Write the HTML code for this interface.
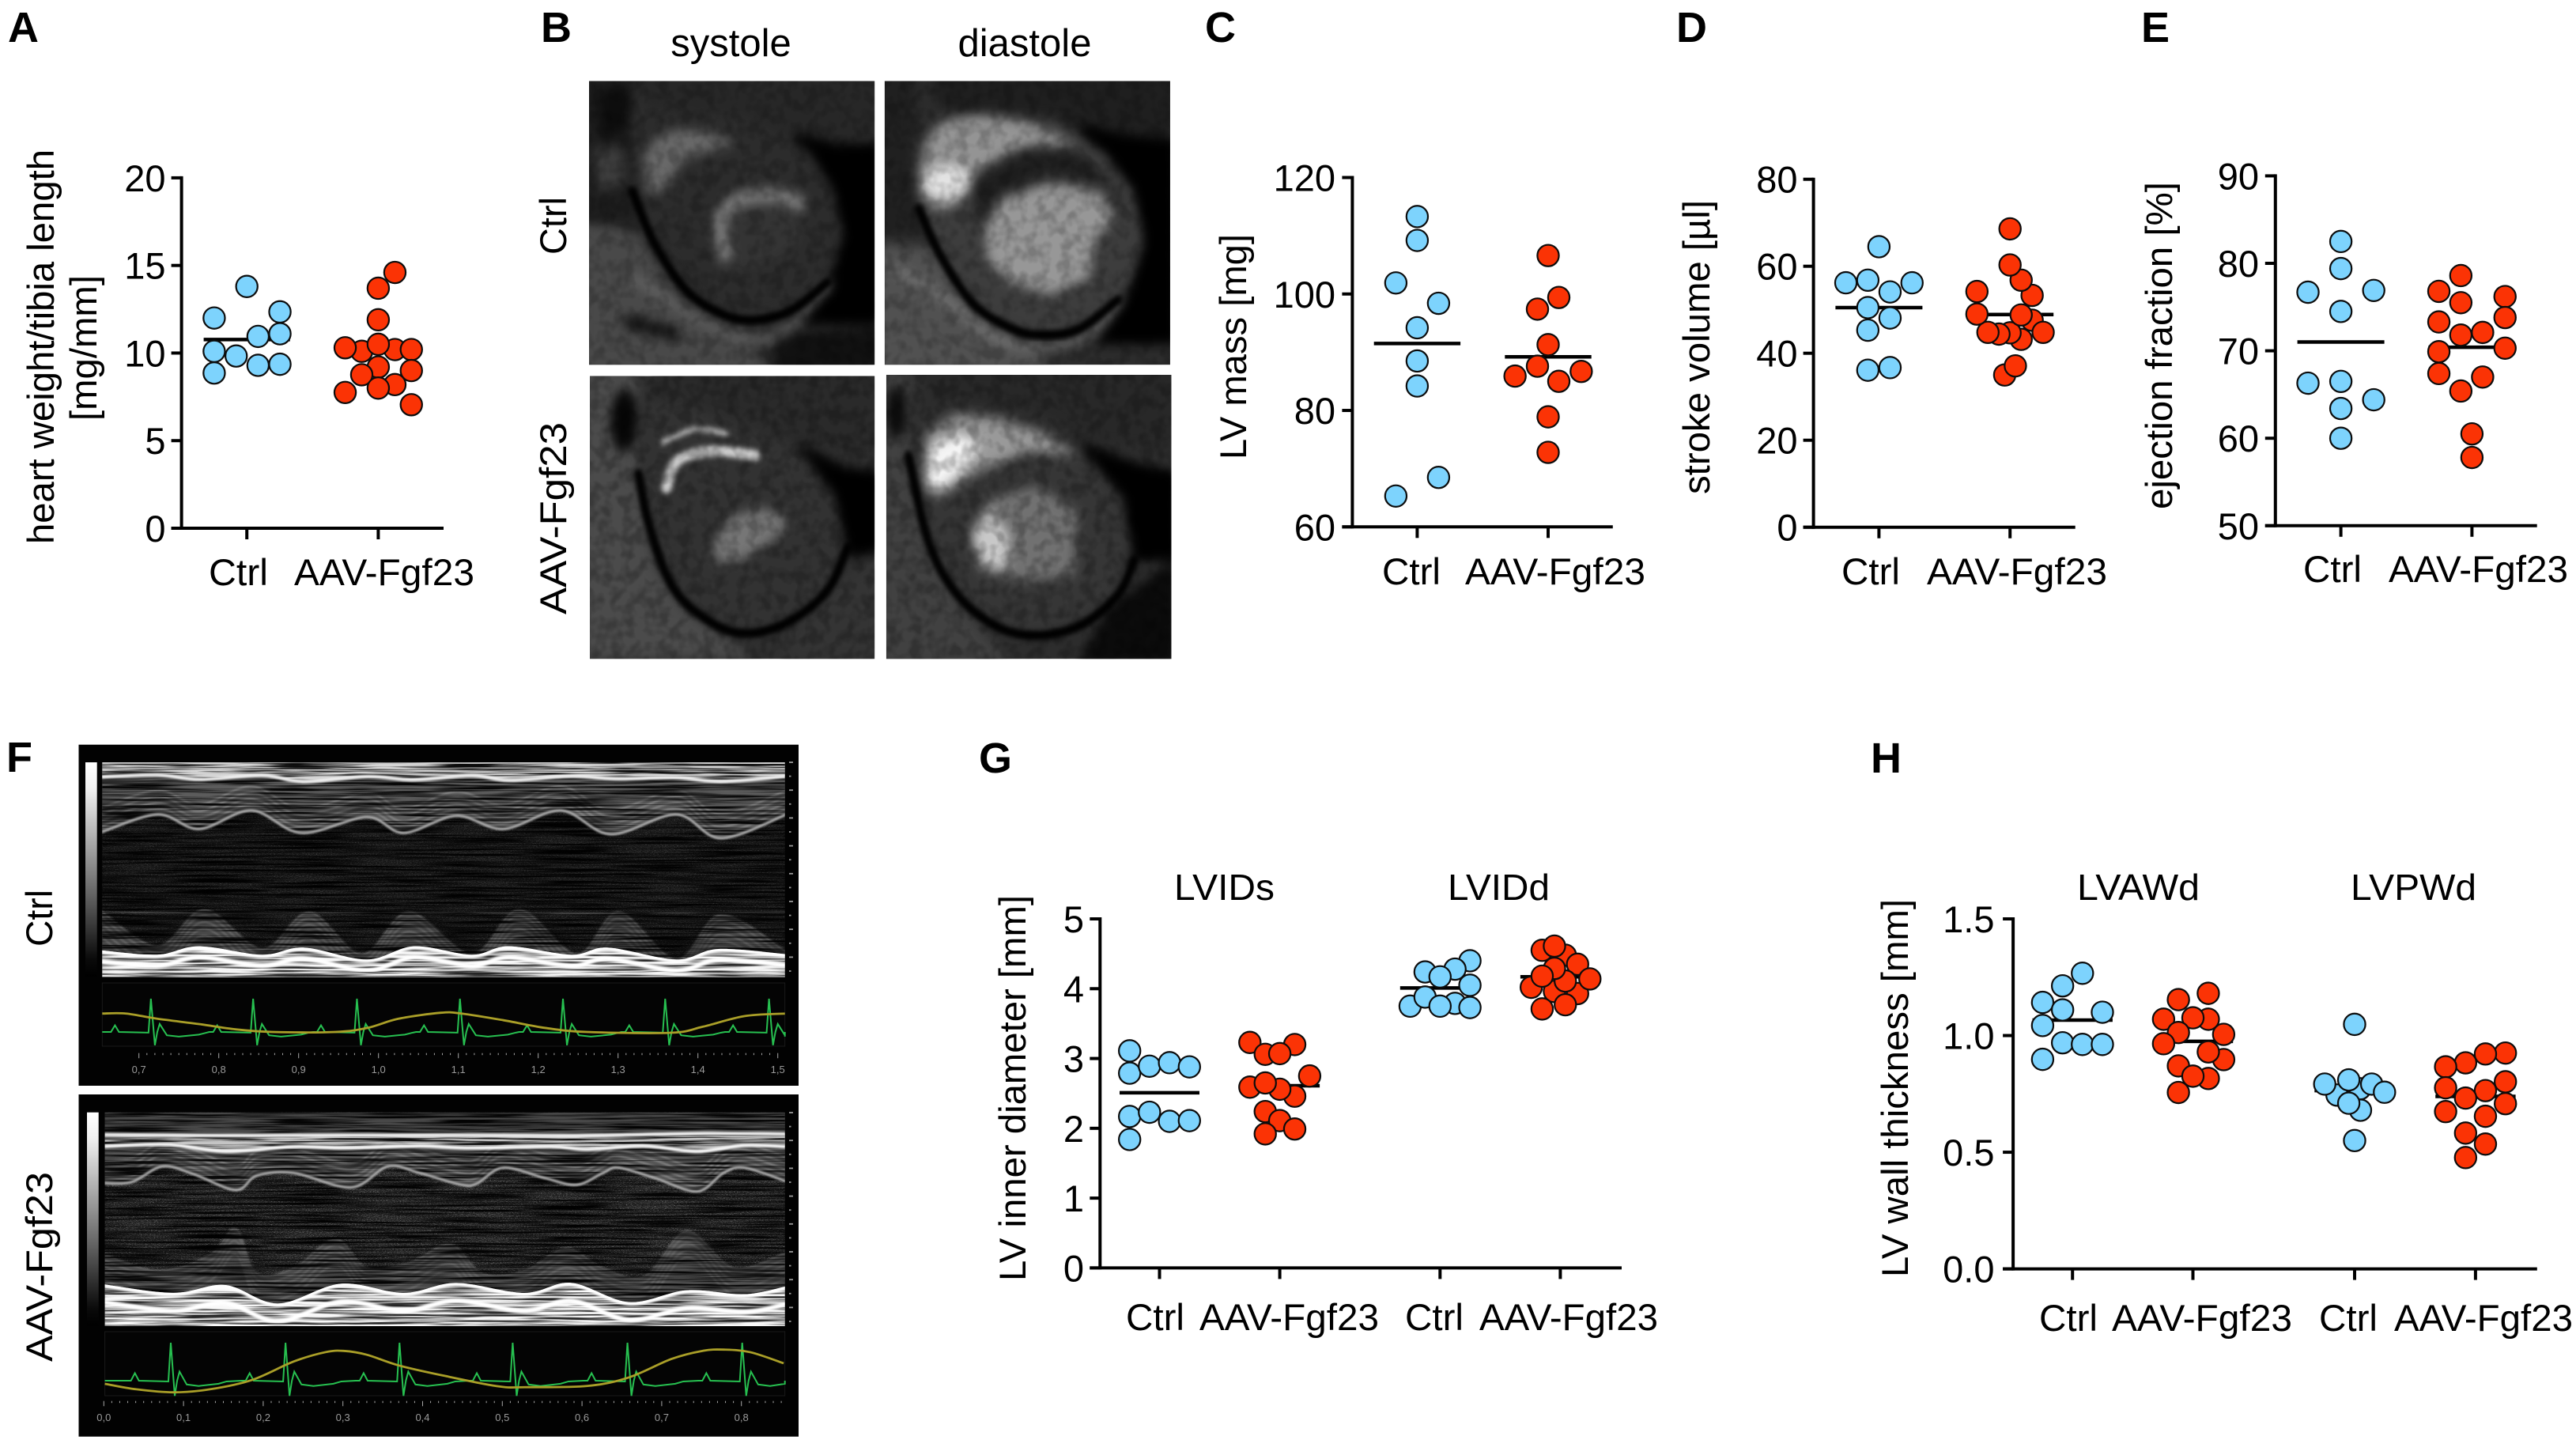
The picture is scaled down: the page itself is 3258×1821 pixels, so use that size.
<!DOCTYPE html>
<html lang="en">
<head>
<meta charset="utf-8">
<title>Cardiac phenotype figure: Ctrl vs AAV-Fgf23</title>
<style>
html,body{margin:0;padding:0;background:#fff;width:3258px;height:1821px;overflow:hidden}
svg{display:block}
text{font-family:"Liberation Sans",Arial,sans-serif;fill:#000}
.lbl{font-size:47px}
.pl{font-size:54px;font-weight:bold}
</style>
</head>
<body>
<svg id="fig" xmlns="http://www.w3.org/2000/svg" width="3258" height="1821" viewBox="0 0 3258 1821">
<defs>
  <filter id="blurS" x="-5%" y="-5%" width="110%" height="110%" color-interpolation-filters="sRGB"><feGaussianBlur stdDeviation="13"/></filter>
  <filter id="blurT" x="-5%" y="-5%" width="110%" height="110%" color-interpolation-filters="sRGB"><feGaussianBlur stdDeviation="6"/></filter>
  <filter id="blurLine" x="-2%" y="-5%" width="104%" height="110%" color-interpolation-filters="sRGB"><feGaussianBlur stdDeviation="2 3"/></filter>
  <filter id="mriTone" x="-2%" y="-2%" width="104%" height="104%" color-interpolation-filters="sRGB">
    <feComponentTransfer>
      <feFuncR type="gamma" exponent="1.45"/><feFuncG type="gamma" exponent="1.45"/><feFuncB type="gamma" exponent="1.45"/>
    </feComponentTransfer>
  </filter>
  <filter id="streak" x="0" y="0" width="100%" height="100%" color-interpolation-filters="sRGB">
    <feTurbulence type="fractalNoise" baseFrequency="0.006 0.13" numOctaves="3" seed="4"/>
    <feColorMatrix values="0 0 0 0 0  0 0 0 0 0  0 0 0 0 0  3.2 0 0 0 -1.2"/>
  </filter>
  <filter id="speckle" x="0" y="0" width="100%" height="100%" color-interpolation-filters="sRGB">
    <feTurbulence type="fractalNoise" baseFrequency="0.35 0.7" numOctaves="2" seed="9"/>
    <feColorMatrix values="0 0 0 0 1  0 0 0 0 1  0 0 0 0 1  4 0 0 0 -1.9"/>
  </filter>
  <filter id="mriNoise" x="0" y="0" width="100%" height="100%" color-interpolation-filters="sRGB">
    <feTurbulence type="fractalNoise" baseFrequency="0.035 0.035" numOctaves="2" seed="12"/>
    <feColorMatrix values="0 0 0 0 0  0 0 0 0 0  0 0 0 0 0  3 0 0 0 -1.2"/>
  </filter>
  <linearGradient id="grayBar" x1="0" y1="0" x2="0" y2="1">
    <stop offset="0" stop-color="#fff"/><stop offset="0.12" stop-color="#f0f0f0"/><stop offset="0.55" stop-color="#777"/><stop offset="0.92" stop-color="#0a0a0a"/><stop offset="1" stop-color="#000"/>
  </linearGradient>
  <clipPath id="clipTL"><rect x="88" y="187" width="708" height="654"/></clipPath>
  <clipPath id="clipTR"><rect x="821" y="187" width="708" height="654"/></clipPath>
  <clipPath id="clipBL"><rect x="90" y="867" width="706" height="652"/></clipPath>
  <clipPath id="clipBR"><rect x="825" y="864" width="707" height="655"/></clipPath>
  <clipPath id="clipM1"><rect x="129.3" y="964" width="863.4" height="271.7"/></clipPath>
  <clipPath id="clipM2"><rect x="132.6" y="1406.7" width="860.1" height="270.3"/></clipPath>
</defs>
<rect width="3258" height="1821" fill="#fff"/>

<!-- panel letters -->
<text class="pl" x="10" y="53">A</text>
<text class="pl" x="684" y="53">B</text>
<text class="pl" x="1524" y="53">C</text>
<text class="pl" x="2120" y="53">D</text>
<text class="pl" x="2708" y="53">E</text>
<text class="pl" x="8" y="976">F</text>
<text class="pl" x="1238" y="977">G</text>
<text class="pl" x="2366" y="977">H</text>

<!-- Panel B : MRI -->
<g>
  <text class="lbl" x="924.5" y="71" text-anchor="middle" style="font-size:49px">systole</text>
  <text class="lbl" x="1296" y="71" text-anchor="middle" style="font-size:49px">diastole</text>
  <text class="lbl" transform="translate(716,322) rotate(-90)" textLength="73" lengthAdjust="spacingAndGlyphs">Ctrl</text>
  <text class="lbl" transform="translate(716,777) rotate(-90)" textLength="243" lengthAdjust="spacingAndGlyphs">AAV-Fgf23</text>

  <g id="mriImages" transform="translate(700,0) scale(0.5102,0.5485)" filter="url(#mriTone)">
    <!-- top-left -->
    <g clip-path="url(#clipTL)">
      <rect x="88" y="187" width="708" height="654" fill="#4e4e4e"/>
      <g filter="url(#blurS)">
        <polygon points="200,170 810,170 810,350 620,330 470,270 230,250" fill="#474747"/>
        <polygon points="70,170 200,170 190,330 210,520 70,520" fill="#3a3a3a"/>
        <polygon points="110,210 190,200 185,300 120,320" fill="#222"/>
        <polygon points="100,340 170,340 180,420 110,440" fill="#606060"/>
        <polygon points="70,510 200,530 320,700 480,790 540,860 70,860" fill="#6c6c6c"/>
        <polygon points="590,305 700,335 810,335 810,745 610,745 680,650 725,540 690,430" fill="#040404"/>
        <polygon points="560,770 810,755 810,860 540,860" fill="#282828"/>
        <polygon points="210,440 250,540 320,650 400,715 480,735 560,720 640,680 700,620 720,540 700,440 640,350 580,310 450,280 300,260 220,300" fill="#4c4c4c"/>
        <polygon points="230,440 222,360 260,310 330,295 430,315 445,335 380,350 320,370 290,420 250,450" fill="#8a8a8a"/>
        <polygon points="400,590 395,500 460,440 560,440 620,470 610,560 540,610 450,620" fill="#565656"/>
        <polyline points="425,590 415,500 470,458 560,452 610,470" fill="none" stroke="#9a9a9a" stroke-width="36"/>
        <polyline points="200,640 320,710 450,772 560,772 690,655" fill="none" stroke="#8a8a8a" stroke-width="18"/>
        <polyline points="185,742 240,755 300,770" fill="none" stroke="#1a1a1a" stroke-width="22"/>
      </g>
      <polyline filter="url(#blurT)" points="195,440 250,560 330,670 420,725 500,738 590,715 680,650" fill="none" stroke="#000" stroke-width="17"/>
      <rect x="88" y="187" width="708" height="654" filter="url(#mriNoise)" opacity=".13"/>
    </g>
    <!-- top-right -->
    <g clip-path="url(#clipTR)">
      <rect x="821" y="187" width="708" height="654" fill="#4c4c4c"/>
      <g filter="url(#blurS)">
        <polygon points="930,170 1540,170 1540,330 1370,330 1250,270 960,250" fill="#3c3c3c"/>
        <polygon points="800,170 900,170 890,400 920,540 800,540" fill="#3e3e3e"/>
        <polygon points="800,560 930,570 1040,710 1180,800 1250,860 800,860" fill="#747474"/>
        <polygon points="1290,285 1420,315 1540,325 1540,790 1350,790 1420,700 1470,560 1440,430" fill="#040404"/>
        <polygon points="890,400 910,320 960,270 1100,255 1250,280 1370,350 1440,440 1465,540 1440,640 1370,720 1270,765 1180,770 1080,730 1000,660 930,560" fill="#606060"/>
        <polygon points="1040,410 1180,345 1300,350 1400,440 1420,520 1380,430 1230,400 1100,450 1050,520" fill="#3c3c3c"/>
        <polygon points="905,440 915,340 960,280 1050,265 1180,280 1300,335 1180,335 1100,365 1050,400 1000,470 950,490 930,470" fill="#b0b0b0"/>
        <ellipse cx="975" cy="420" rx="60" ry="40" fill="#ececec"/>
        <polygon points="1070,530 1110,460 1230,420 1350,440 1390,500 1340,560 1330,640 1230,680 1130,650 1075,600" fill="#b2b2b2"/>
        <polyline points="850,620 960,680 1080,770 1200,800 1310,780 1400,700" fill="none" stroke="#a4a4a4" stroke-width="14"/>
      </g>
      <polyline filter="url(#blurT)" points="905,480 960,590 1040,700 1130,755 1200,772 1300,760 1400,690" fill="none" stroke="#000" stroke-width="17"/>
      <rect x="821" y="187" width="708" height="654" filter="url(#mriNoise)" opacity=".13"/>
    </g>
    <!-- bottom-left -->
    <g clip-path="url(#clipBL)">
      <rect x="90" y="867" width="706" height="652" fill="#505050"/>
      <g filter="url(#blurS)">
        <polygon points="240,850 810,850 810,1060 620,1030 440,960 250,920" fill="#4a4a4a"/>
        <polygon points="70,850 210,850 210,1100 250,1300 320,1400 500,1520 70,1520" fill="#6e6e6e"/>
        <ellipse cx="175" cy="970" rx="30" ry="70" fill="#141414"/>
        <polygon points="600,1020 720,1080 810,1090 810,1270 730,1280 700,1140" fill="#040404"/>
        <polygon points="660,1360 810,1290 810,1520 560,1520" fill="#565656"/>
        <polygon points="225,1000 240,930 330,930 450,980 600,1030 700,1140 730,1260 680,1360 590,1430 490,1460 400,1440 300,1360 240,1220" fill="#545454"/>
        <polygon points="390,1260 440,1190 520,1170 590,1200 540,1250 470,1290 410,1300" fill="#969696"/>
      </g>
      <g filter="url(#blurT)">
        <polyline points="270,1020 350,990 430,1000" fill="none" stroke="#c4c4c4" stroke-width="14"/>
        <polyline points="280,1125 310,1060 400,1040 500,1050" fill="none" stroke="#dcdcdc" stroke-width="26"/>
        <polyline points="210,1090 240,1220 300,1360 400,1440 490,1460 590,1430 680,1360 730,1260" fill="none" stroke="#000" stroke-width="17"/>
      </g>
      <rect x="90" y="867" width="706" height="652" filter="url(#mriNoise)" opacity=".16"/>
    </g>
    <!-- bottom-right -->
    <g clip-path="url(#clipBR)">
      <rect x="825" y="864" width="707" height="655" fill="#4e4e4e"/>
      <g filter="url(#blurS)">
        <polygon points="900,850 1545,850 1545,1040 1340,1020 1200,950 950,930" fill="#484848"/>
        <polygon points="810,850 890,850 880,1060 930,1260 1000,1380 1130,1530 810,1530" fill="#646464"/>
        <ellipse cx="850" cy="950" rx="22" ry="60" fill="#1c1c1c"/>
        <polygon points="1300,1020 1440,1070 1545,1090 1545,1290 1430,1290 1420,1150" fill="#040404"/>
        <polygon points="1380,1400 1545,1290 1545,1530 1300,1530" fill="#1e1e1e"/>
        <polygon points="885,1050 915,960 1000,930 1150,960 1300,1030 1400,1130 1440,1260 1400,1370 1310,1440 1200,1465 1100,1445 1000,1370 930,1250" fill="#585858"/>
        <polygon points="915,1100 925,1000 1000,955 1110,965 1220,1000 1300,1050 1180,1040 1050,1090 950,1150" fill="#b4b4b4"/>
        <polygon points="925,1130 935,1030 1000,1000 1060,1020 1020,1080 960,1130" fill="#f8f8f8"/>
        <polygon points="1030,1230 1080,1150 1200,1120 1300,1180 1290,1330 1160,1340 1060,1320" fill="#929292"/>
        <polygon points="1035,1240 1080,1170 1130,1230 1130,1310 1065,1310" fill="#d8d8d8"/>
      </g>
      <polyline filter="url(#blurT)" points="880,1050 930,1250 1000,1370 1100,1445 1200,1465 1310,1440 1400,1370 1440,1290" fill="none" stroke="#000" stroke-width="17"/>
      <rect x="825" y="864" width="707" height="655" filter="url(#mriNoise)" opacity=".16"/>
    </g>
  </g>
</g>

<!-- Panel F : echo -->
<g>
  <text class="lbl" transform="translate(66,1197) rotate(-90)" textLength="72" lengthAdjust="spacingAndGlyphs">Ctrl</text>
  <text class="lbl" transform="translate(66,1722) rotate(-90)" textLength="240" lengthAdjust="spacingAndGlyphs">AAV-Fgf23</text>
  <rect x="99.5" y="941.7" width="910.5" height="431.3" fill="#020202"/>
  <rect x="108" y="964" width="14.7" height="271" fill="url(#grayBar)"/>
  <g id="mmode1" clip-path="url(#clipM1)"></g>
  <g id="ecg1"></g>
  <rect x="99.5" y="1384" width="910.5" height="432.7" fill="#020202"/>
  <rect x="110" y="1406.7" width="14.7" height="270" fill="url(#grayBar)"/>
  <g id="mmode2" clip-path="url(#clipM2)"></g>
  <g id="ecg2"></g>
</g>

<!-- Charts: axis titles and category labels inline, marks drawn by script -->
<g id="chartA">
  <text class="lbl" transform="translate(68,688) rotate(-90)" textLength="499" lengthAdjust="spacingAndGlyphs">heart weight/tibia length</text>
  <text class="lbl" transform="translate(122,532) rotate(-90)" textLength="184" lengthAdjust="spacingAndGlyphs">[mg/mm]</text>
  <text class="lbl" x="264" y="740" textLength="75" lengthAdjust="spacingAndGlyphs">Ctrl</text>
  <text class="lbl" x="372" y="740" textLength="228" lengthAdjust="spacingAndGlyphs">AAV-Fgf23</text>
</g>
<g id="chartC">
  <text class="lbl" transform="translate(1576,581) rotate(-90)" textLength="285" lengthAdjust="spacingAndGlyphs">LV mass [mg]</text>
  <text class="lbl" x="1748" y="739" textLength="74" lengthAdjust="spacingAndGlyphs">Ctrl</text>
  <text class="lbl" x="1853" y="739" textLength="228" lengthAdjust="spacingAndGlyphs">AAV-Fgf23</text>
</g>
<g id="chartD">
  <text class="lbl" transform="translate(2162,625) rotate(-90)" textLength="372" lengthAdjust="spacingAndGlyphs">stroke volume [µl]</text>
  <text class="lbl" x="2329" y="739" textLength="74" lengthAdjust="spacingAndGlyphs">Ctrl</text>
  <text class="lbl" x="2437" y="739" textLength="228" lengthAdjust="spacingAndGlyphs">AAV-Fgf23</text>
</g>
<g id="chartE">
  <text class="lbl" transform="translate(2747,644) rotate(-90)" textLength="414" lengthAdjust="spacingAndGlyphs">ejection fraction [%]</text>
  <text class="lbl" x="2913" y="736" textLength="74" lengthAdjust="spacingAndGlyphs">Ctrl</text>
  <text class="lbl" x="3021" y="736" textLength="227" lengthAdjust="spacingAndGlyphs">AAV-Fgf23</text>
</g>
<g id="chartG">
  <text class="lbl" transform="translate(1297,1620) rotate(-90)" textLength="488" lengthAdjust="spacingAndGlyphs">LV inner diameter [mm]</text>
  <text class="lbl" x="1485" y="1138" textLength="127" lengthAdjust="spacingAndGlyphs" style="font-size:46px">LVIDs</text>
  <text class="lbl" x="1831" y="1138" textLength="129" lengthAdjust="spacingAndGlyphs" style="font-size:46px">LVIDd</text>
  <text class="lbl" x="1424" y="1682" textLength="74" lengthAdjust="spacingAndGlyphs">Ctrl</text>
  <text class="lbl" x="1517" y="1682" textLength="227" lengthAdjust="spacingAndGlyphs">AAV-Fgf23</text>
  <text class="lbl" x="1777" y="1682" textLength="74" lengthAdjust="spacingAndGlyphs">Ctrl</text>
  <text class="lbl" x="1871" y="1682" textLength="226" lengthAdjust="spacingAndGlyphs">AAV-Fgf23</text>
</g>
<g id="chartH">
  <text class="lbl" transform="translate(2413,1615) rotate(-90)" textLength="478" lengthAdjust="spacingAndGlyphs">LV wall thickness [mm]</text>
  <text class="lbl" x="2627" y="1138" textLength="155" lengthAdjust="spacingAndGlyphs" style="font-size:46px">LVAWd</text>
  <text class="lbl" x="2973" y="1138" textLength="159" lengthAdjust="spacingAndGlyphs" style="font-size:46px">LVPWd</text>
  <text class="lbl" x="2579" y="1683" textLength="74" lengthAdjust="spacingAndGlyphs">Ctrl</text>
  <text class="lbl" x="2671" y="1683" textLength="228" lengthAdjust="spacingAndGlyphs">AAV-Fgf23</text>
  <text class="lbl" x="2933" y="1683" textLength="74" lengthAdjust="spacingAndGlyphs">Ctrl</text>
  <text class="lbl" x="3028" y="1683" textLength="226" lengthAdjust="spacingAndGlyphs">AAV-Fgf23</text>
</g>
</svg>

<script>
// ---------- chart data (values on each y axis; slots = swarm column in half-dot units) ----------
const aTicks = [0, 5, 10, 15, 20];
const aTickLabels = ['0', '5', '10', '15', '20'];
const aCtrl = [13.8, 12.0, 12.35, 11.1, 10.95, 10.1, 9.83, 9.3, 9.36, 8.86];
const aCtrlSlots = [0, -3.06, 3.1, 3.1, 1.05, -3.06, -1, 1.05, 3.1, -3.06];
const aAav = [14.6, 13.7, 11.9, 10.1, 10.2, 10.3, 10.2, 10.5, 9.2, 8.76, 9.0, 8.2, 8.0, 7.75, 7.05];
const aAavSlots = [1.56, 0, 0, -1.55, 1.56, -3.1, 3.1, 0, 0, -1.55, 3.1, 1.56, 0, -3.1, 3.1];
const aMeans = [10.77, 10.05];

const cTicks = [60, 80, 100, 120];
const cTickLabels = ['60', '80', '100', '120'];
const cCtrl = [113.3, 109.2, 101.9, 98.4, 94.2, 88.5, 84.2, 68.5, 65.3];
const cCtrlSlots = [0, 0, -2, 2, 0, 0, 0, 2, -2];
const cAav = [106.6, 99.4, 97.4, 91.3, 85.9, 86.7, 85.0, 87.6, 78.9, 72.8];
const cAavSlots = [0, 1, -1, 0, -3.1, 3.1, 1, -1, 0, 0];
const cMeans = [91.5, 89.2];

const dTicks = [0, 20, 40, 60, 80];
const dTickLabels = ['0', '20', '40', '60', '80'];
const dCtrl = [64.5, 56.2, 56.8, 56.2, 54.1, 48.1, 50.5, 45.3, 36.1, 36.7];
const dCtrlSlots = [0, -3.1, -1.04, 3.1, 1.04, 1.04, -1.04, -1.04, -1.04, 1.04];
const dAav = [53.3, 56.8, 60.3, 68.6, 54.2, 43.2, 44.7, 44.4, 44.8, 47.6, 48.8, 49.0, 44.8, 35.0, 37.1];
const dAavSlots = [2.07, 1.04, 0, 0, -3.1, 1.04, 0, -1.04, -2.07, 2.07, 1.04, -3.1, 3.1, -0.5, 0.5];
const dMeans = [50.5, 48.9];

const eTicks = [50, 60, 70, 80, 90];
const eTickLabels = ['50', '60', '70', '80', '90'];
const eCtrl = [82.5, 79.4, 76.7, 76.9, 74.5, 66.3, 66.5, 64.4, 63.4, 60.0];
const eCtrlSlots = [0, 0, -3.08, 3.08, 0, -3.08, 0, 3.08, 0, 0];
const eAav = [78.6, 76.8, 76.2, 75.5, 73.3, 73.8, 72.1, 71.8, 70.3, 69.9, 67.4, 67.0, 65.4, 60.5, 57.8];
const eAavSlots = [-1.04, -3.1, 3.1, -1.04, -3.1, 3.1, 1, -1.04, 3.1, -3.1, -3.1, 1, -1.04, 0, 0];
const eMeans = [71.0, 70.4];

const gTicks = [0, 1, 2, 3, 4, 5];
const gTickLabels = ['0', '1', '2', '3', '4', '5'];
const gSysCtrl = [3.11, 2.79, 2.89, 2.94, 2.88, 2.17, 2.23, 2.10, 2.11, 1.84];
const gSysCtrlSlots = [-2.8, -2.8, -0.94, 0.94, 2.8, -2.8, -0.94, 0.94, 2.8, -2.8];
const gSysAav = [3.23, 3.2, 3.06, 3.07, 2.75, 2.59, 2.46, 2.56, 2.65, 2.24, 2.11, 1.99, 1.92];
const gSysAavSlots = [-2.8, 1.4, -1.36, 0, 2.8, -2.8, 1.4, 0, -1.36, -1.36, 0, 1.4, -1.36];
const gDiaCtrl = [4.40, 4.28, 4.24, 4.17, 4.05, 3.75, 3.88, 3.79, 3.75, 3.73];
const gDiaCtrlSlots = [2.8, 1.4, -1.4, 0, 2.8, -2.8, -1.4, 1.4, 0, 2.8];
const gDiaAav = [4.55, 4.48, 4.61, 4.35, 4.02, 3.93, 3.96, 4.14, 4.11, 4.29, 4.18, 3.71, 3.77];
const gDiaAavSlots = [-1.7, 0.47, -0.55, 1.62, -2.72, 1.62, -0.55, 2.77, 0.47, -0.55, -1.7, -1.7, 0.47];
const gMeans = [2.51, 2.61, 4.01, 4.17];

const hTicks = [0, 0.5, 1.0, 1.5];
const hTickLabels = ['0.0', '0.5', '1.0', '1.5'];
const hAntCtrl = [1.267, 1.213, 1.142, 1.11, 1.10, 1.043, 0.969, 0.962, 0.962, 0.898];
const hAntCtrlSlots = [0.93, -0.93, -2.8, -0.93, 2.8, -2.8, -0.93, 0.93, 2.8, -2.8];
const hAntAav = [1.181, 1.154, 1.07, 1.07, 1.076, 1.005, 1.013, 0.965, 0.897, 0.93, 0.87, 0.816, 0.826, 0.756];
const hAntAavSlots = [1.44, -1.36, -2.75, 1.44, 0, 2.88, -1.36, -2.75, 2.88, 1.44, -1.36, 1.44, 0, -1.36];
const hPostCtrl = [0.745, 0.772, 0.68, 0.792, 0.792, 0.81, 0.757, 0.71, 1.048, 0.55];
const hPostCtrlSlots = [-1.65, 0.5, 0.55, 1.6, -2.8, -0.55, 2.8, -0.55, 0, 0];
const hPostAav = [0.925, 0.921, 0.883, 0.866, 0.802, 0.776, 0.764, 0.732, 0.708, 0.674, 0.654, 0.582, 0.535, 0.477];
const hPostAavSlots = [2.8, 0.93, -0.93, -2.8, 2.8, -2.8, 0.93, -0.93, 2.8, -2.8, 0.93, -0.93, 0.93, -0.93];
const hMeans = [1.066, 0.975, 0.764, 0.739];

// ---------- ECG / respiration traces ----------
const ecg1TickLabels = ['0,7', '0,8', '0,9', '1,0', '1,1', '1,2', '1,3', '1,4', '1,5'];
const ecg1Beats = [0.715, 0.843, 0.973, 1.102, 1.231, 1.359, 1.489];
const resp1Times = [0.654, 0.684, 0.723, 0.776, 0.821, 0.867, 0.946, 0.986, 1.025, 1.078, 1.104, 1.156, 1.209, 1.261, 1.366, 1.406, 1.458, 1.509];
const resp1Levels = [0.96, 0.96, 0.70, 0.43, 0.17, 0.04, 0.04, 0.24, 0.70, 1.0, 0.96, 0.63, 0.24, 0.04, 0, 0.30, 0.83, 0.96];
const ecg2TickLabels = ['0,0', '0,1', '0,2', '0,3', '0,4', '0,5', '0,6', '0,7', '0,8'];
const ecg2Beats = [0.084, 0.228, 0.371, 0.513, 0.657, 0.801];
const resp2Times = [0.001, 0.041, 0.087, 0.133, 0.186, 0.238, 0.278, 0.301, 0.330, 0.370, 0.429, 0.495, 0.528, 0.607, 0.659, 0.712, 0.751, 0.778, 0.811, 0.853];
const resp2Levels = [0.20, 0.07, 0, 0.07, 0.29, 0.72, 0.94, 0.97, 0.88, 0.63, 0.38, 0.14, 0.12, 0.15, 0.35, 0.78, 0.97, 1, 0.94, 0.68];
const beatOffsets = [-0.055, -0.05, -0.045, -0.04, -0.003, 0, 0.005, 0.008, 0.011, 0.02, 0.035, 0.06, 0.07];
const beatLevels = [0, 0, 0.2, 0, -0.02, 1, -0.4, 0, 0.24, -0.1, -0.14, -0.08, -0.02];

const NS = 'http://www.w3.org/2000/svg';
const SLOT = 13.5;
const BLUE = '#7dd3fd';
const RED = '#fb3305';

function mk(tag, parent) {
  const el = document.createElementNS(NS, tag);
  parent.appendChild(el);
  return el;
}
function line(parent, x1, y1, x2, y2, w, color) {
  const el = mk('line', parent);
  el.setAttribute('x1', x1); el.setAttribute('y1', y1);
  el.setAttribute('x2', x2); el.setAttribute('y2', y2);
  el.setAttribute('stroke', color || '#000');
  el.setAttribute('stroke-width', w);
  return el;
}

function drawChart(id, cfg) {
  const root = document.getElementById(id);
  const y = v => cfg.yBottom + (v - cfg.min) / (cfg.max - cfg.min) * (cfg.yTop - cfg.yBottom);

  const yAxis = line(root, cfg.xAxis, y(cfg.max) - 2, cfg.xAxis, y(cfg.min) + 2, 4);
  
  
  const xAxis = line(root, cfg.xAxis - 13, y(cfg.min), cfg.xRight, y(cfg.min), 4);
  
  

  cfg.ticks.forEach((t, i) => {
    const tick = line(root, cfg.xAxis - 13, y(t), cfg.xAxis, y(t), 4);
    
    
    const lab = mk('text', root);
    
    
    lab.setAttribute('x', cfg.labelRight);
    lab.setAttribute('y', y(t) + 17);
    lab.setAttribute('text-anchor', 'end');
    lab.setAttribute('class', 'lbl');
    lab.textContent = cfg.tickLabels[i];
  });

  cfg.groups.forEach(g => {
    const tick = line(root, g.center, y(cfg.min), g.center, y(cfg.min) + 14, 4);
    
    
    const mean = line(root, g.center - cfg.meanHalf, y(g.mean), g.center + cfg.meanHalf, y(g.mean), 4.5);
    
    
    g.values.forEach((v, i) => {
      const dot = mk('circle', root);
      
      
      dot.setAttribute('cx', g.center + g.slots[i] * SLOT);
      dot.setAttribute('cy', y(v));
      dot.setAttribute('r', 13.6);
      dot.setAttribute('fill', g.color);
      dot.setAttribute('stroke', '#0c0c0c');
      dot.setAttribute('stroke-width', 2.2);
    });
  });
}

drawChart('chartA', { min: 0, max: 20, yBottom: 668, yTop: 224.9, xAxis: 229.6, xRight: 561, labelRight: 209.5, meanHalf: 54.6,
  ticks: aTicks, tickLabels: aTickLabels,
  groups: [
    { name: 'ctrl', center: 312.2, values: aCtrl, slots: aCtrlSlots, mean: aMeans[0], color: BLUE },
    { name: 'aav-fgf23', center: 478.4, values: aAav, slots: aAavSlots, mean: aMeans[1], color: RED }
  ] });
drawChart('chartC', { min: 60, max: 120, yBottom: 666.3, yTop: 224.5, xAxis: 1710.4, xRight: 2039.8, labelRight: 1689, meanHalf: 54.7,
  ticks: cTicks, tickLabels: cTickLabels,
  groups: [
    { name: 'ctrl', center: 1792.4, values: cCtrl, slots: cCtrlSlots, mean: cMeans[0], color: BLUE },
    { name: 'aav-fgf23', center: 1958, values: cAav, slots: cAavSlots, mean: cMeans[1], color: RED }
  ] });
drawChart('chartD', { min: 0, max: 80, yBottom: 666.7, yTop: 226.7, xAxis: 2293.6, xRight: 2624.7, labelRight: 2273.5, meanHalf: 55,
  ticks: dTicks, tickLabels: dTickLabels,
  groups: [
    { name: 'ctrl', center: 2376.4, values: dCtrl, slots: dCtrlSlots, mean: dMeans[0], color: BLUE },
    { name: 'aav-fgf23', center: 2542.2, values: dAav, slots: dAavSlots, mean: dMeans[1], color: RED }
  ] });
drawChart('chartE', { min: 50, max: 90, yBottom: 664.8, yTop: 222.4, xAxis: 2877.8, xRight: 3208.7, labelRight: 2857, meanHalf: 55,
  ticks: eTicks, tickLabels: eTickLabels,
  groups: [
    { name: 'ctrl', center: 2960.6, values: eCtrl, slots: eCtrlSlots, mean: eMeans[0], color: BLUE },
    { name: 'aav-fgf23', center: 3126.4, values: eAav, slots: eAavSlots, mean: eMeans[1], color: RED }
  ] });
drawChart('chartG', { min: 0, max: 5, yBottom: 1603.4, yTop: 1162, xAxis: 1391.3, xRight: 2051, labelRight: 1371, meanHalf: 50.5,
  ticks: gTicks, tickLabels: gTickLabels,
  groups: [
    { name: 'lvids-ctrl', center: 1466.5, values: gSysCtrl, slots: gSysCtrlSlots, mean: gMeans[0], color: BLUE },
    { name: 'lvids-aav-fgf23', center: 1618.6, values: gSysAav, slots: gSysAavSlots, mean: gMeans[1], color: RED },
    { name: 'lvidd-ctrl', center: 1821.3, values: gDiaCtrl, slots: gDiaCtrlSlots, mean: gMeans[2], color: BLUE },
    { name: 'lvidd-aav-fgf23', center: 1973.4, values: gDiaAav, slots: gDiaAavSlots, mean: gMeans[3], color: RED }
  ] });
drawChart('chartH', { min: 0, max: 1.5, yBottom: 1604.6, yTop: 1162, xAxis: 2546.1, xRight: 3208.8, labelRight: 2522.5, meanHalf: 50.7,
  ticks: hTicks, tickLabels: hTickLabels,
  groups: [
    { name: 'lvawd-ctrl', center: 2621.2, values: hAntCtrl, slots: hAntCtrlSlots, mean: hMeans[0], color: BLUE },
    { name: 'lvawd-aav-fgf23', center: 2773.5, values: hAntAav, slots: hAntAavSlots, mean: hMeans[1], color: RED },
    { name: 'lvpwd-ctrl', center: 2978, values: hPostCtrl, slots: hPostCtrlSlots, mean: hMeans[2], color: BLUE },
    { name: 'lvpwd-aav-fgf23', center: 3130.9, values: hPostAav, slots: hPostAavSlots, mean: hMeans[3], color: RED }
  ] });

// ---------- ECG strip ----------
function drawEcg(id, c) {
  const root = document.getElementById(id);
  const frame = mk('rect', root);
  
  
  frame.setAttribute('x', c.x0); frame.setAttribute('y', c.top);
  frame.setAttribute('width', c.x1 - c.x0); frame.setAttribute('height', c.bottom - c.top);
  frame.setAttribute('fill', '#040404'); frame.setAttribute('stroke', '#1a1a1a');

  const X = t => c.tx0 + (t - c.t0) * c.pxPerSec;
  const clampX = x => Math.min(c.x1, Math.max(c.x0, x));

  const pts = [[c.x0, c.base]];
  c.beats.forEach(b => {
    beatOffsets.forEach((o, i) => pts.push([clampX(X(b + o)), c.base - beatLevels[i] * c.amp]));
  });
  pts.push([c.x1, c.base]);
  const ecg = mk('polyline', root);
  
  
  ecg.setAttribute('points', pts.map(p => p.join(',')).join(' '));
  ecg.setAttribute('fill', 'none'); ecg.setAttribute('stroke', '#27c050'); ecg.setAttribute('stroke-width', 2);

  const rp = c.respT.map((t, i) => [clampX(X(t)), c.respBase - c.respLevels[i] * c.respAmp]);
  const resp = mk('path', root);
  
  
  resp.setAttribute('d', smooth(rp));
  resp.setAttribute('fill', 'none'); resp.setAttribute('stroke', '#aa9f28'); resp.setAttribute('stroke-width', 2.8);

  for (let k = 0; k <= 85; k++) {
    const tx = c.tx0 + k * c.pxPerSec / 100;
    if (tx > c.x1) break;
    const major = k % 10 === 0;
    const tick = line(root, tx, c.rulerY, tx, c.rulerY + (major ? 6.5 : 2.5), 1, '#a8a8a8');
    
    
  }
  c.labels.forEach((l, i) => {
    const lab = mk('text', root);
    
    
    lab.setAttribute('x', c.tx0 + i * c.pxPerSec / 10);
    lab.setAttribute('y', c.labelY);
    lab.setAttribute('text-anchor', 'middle');
    lab.setAttribute('style', 'font-size:13px;fill:#9a9a9a');
    lab.textContent = l;
  });
  for (let k = 0; k < 16; k++) {
    const w = k % 2 ? 2.5 : 5;
    const mark = line(root, 998, c.mTop + k * 17.6, 998 + w, c.mTop + k * 17.6, 1.8, '#999');
    
    
  }
}

// ---------- helpers for the M-mode image ----------
function smooth(p) {
  let d = 'M' + p[0][0] + ',' + p[0][1];
  for (let i = 0; i < p.length - 1; i++) {
    const a = p[Math.max(0, i - 1)], b = p[i], c = p[i + 1], e = p[Math.min(p.length - 1, i + 2)];
    d += 'C' + (b[0] + (c[0] - a[0]) / 6).toFixed(1) + ',' + (b[1] + (c[1] - a[1]) / 6).toFixed(1) + ' ' +
         (c[0] - (e[0] - b[0]) / 6).toFixed(1) + ',' + (c[1] - (e[1] - b[1]) / 6).toFixed(1) + ' ' + c[0] + ',' + c[1];
  }
  return d;
}
function area(a, b) {
  return smooth(a) + 'L' + smooth(b.slice().reverse()).slice(1) + 'Z';
}
function shape(parent, d, fill, stroke, sw, op) {
  const el = mk('path', parent);
  el.setAttribute('d', d);
  el.setAttribute('fill', fill || 'none');
  if (stroke) { el.setAttribute('stroke', stroke); el.setAttribute('stroke-width', sw); el.setAttribute('vector-effect', 'non-scaling-stroke'); }
  if (op) el.setAttribute('opacity', op);
  return el;
}
function shift(pts, dy) { return pts.map(p => [p[0], p[1] + dy]); }

function drawMMode(id, m) {
  const root = document.getElementById(id);
  const g = mk('g', root);
  
  
  g.setAttribute('transform', m.transform);
  const W0 = 190, W1 = 1500;
  const top = [[W0, m.y0], [W1, m.y0]];
  const bot = [[W0, m.y1], [W1, m.y1]];

  const base = mk('rect', g);
  
  
  base.setAttribute('x', W0); base.setAttribute('y', m.y0);
  base.setAttribute('width', W1 - W0); base.setAttribute('height', m.y1 - m.y0);
  base.setAttribute('fill', m.cavity);

  const sk = mk('rect', g);
  
  
  sk.setAttribute('x', W0); sk.setAttribute('y', m.y0);
  sk.setAttribute('width', W1 - W0); sk.setAttribute('height', m.y1 - m.y0);
  sk.setAttribute('filter', 'url(#speckle)');
  sk.setAttribute('opacity', m.speckle);

  const a = shape(g, area(top, m.topLine), m.topFill);
  
  
  const b = shape(g, area(m.topLine, m.cavTop), m.upperFill);
  
  
  if (m.secondLine) {
    const bb = shape(g, area(m.topLine, m.secondLine), '#c4c4c4');
    
    
  }
  const c = shape(g, area(m.loBound, m.brightTop), m.lowerFill);
  
  

  const mid = shape(g, smooth(m.midLine), null, '#4a4a4a', 1.5);
  
  

  const soft = mk('g', g);
  
  
  soft.setAttribute('filter', 'url(#blurLine)');

  [-22, -44, -68, -92].forEach(dy => {
    const echo = shape(soft, smooth(shift(m.cavTop, dy)), null, '#9a9a9a', 1.7);
    
    
  });
  const l3 = shape(soft, smooth(m.loBound), null, '#707070', 1.6);
  
  
  [24, 48, 74, 100].forEach(dy => {
    const echo = shape(soft, smooth(shift(m.loBound, dy)), null, '#7a7a7a', 1.5);
    
    
  });

  const st = mk('rect', g);
  
  
  st.setAttribute('x', W0); st.setAttribute('y', m.y0);
  st.setAttribute('width', W1 - W0); st.setAttribute('height', m.y1 - m.y0);
  st.setAttribute('filter', 'url(#streak)');
  st.setAttribute('opacity', '0.95');

  const strong = mk('g', g);
  
  
  strong.setAttribute('filter', 'url(#blurLine)');
  const l1 = shape(strong, smooth(m.topLine), null, '#efefef', 4.5);
  
  
  if (m.secondLine) {
    const l1b = shape(strong, smooth(m.secondLine), null, '#f8f8f8', 4.5);
    
    
  }
  const l2 = shape(strong, smooth(m.cavTop), null, '#b0b0b0', 3.2);
  
  

  const d = shape(g, area(m.brightTop, bot), m.brightFill);
  
  

  const cp = mk('clipPath', g);
  cp.setAttribute('id', id + '-bright-clip');
  const cpShape = mk('path', cp);
  cpShape.setAttribute('d', area(m.brightTop, bot));
  const brightHolder = mk('g', g);
  
  
  brightHolder.setAttribute('clip-path', 'url(#' + id + '-bright-clip)');
  const st2 = mk('rect', brightHolder);
  
  
  st2.setAttribute('x', W0); st2.setAttribute('y', m.y0);
  st2.setAttribute('width', W1 - W0); st2.setAttribute('height', m.y1 - m.y0);
  st2.setAttribute('filter', 'url(#streak)');
  st2.setAttribute('opacity', '0.85');

  const softB = mk('g', brightHolder);
  
  
  softB.setAttribute('filter', 'url(#blurLine)');
  [0, m.gap].forEach(dy => {
    const bl = shape(softB, smooth(shift(m.brightTop, dy + 4)), null, '#ffffff', 6);
    
    
  });
}

drawMMode('mmode1', {
  transform: 'translate(0,920) scale(0.6631,0.33333)', y0: 132, y1: 948,
  cavity: '#151515', speckle: '0.16', topFill: '#d4d4d4', upperFill: '#5c5c5c', lowerFill: '#484848', brightFill: '#f6f6f6', gap: 38,
  topLine: [[190,188],[300,180],[380,197],[500,182],[580,205],[700,186],[790,198],[900,182],[970,200],[1090,185],[1180,195],[1290,190],[1375,205],[1500,185]],
  cavTop: [[190,400],[300,330],[380,385],[480,315],[575,400],[700,340],[770,400],[870,335],[960,385],[1070,315],[1165,405],[1290,330],[1375,420],[1500,330]],
  loBound: [[190,690],[300,830],[390,690],[500,840],[590,700],[690,860],[780,700],[900,860],[990,690],[1100,860],[1180,700],[1290,880],[1375,710],[1500,850]],
  brightTop: [[190,845],[300,862],[380,830],[500,862],[580,835],[700,880],[790,830],[900,862],[970,830],[1090,862],[1160,835],[1290,880],[1370,840],[1500,860]],
  midLine: [[190,700],[500,705],[800,702],[1100,705],[1500,700]]
});
drawMMode('mmode2', {
  transform: 'translate(0,1370) scale(0.6631,0.33333)', y0: 110, y1: 922,
  cavity: '#1f1f1f', speckle: '0.3', topFill: '#484848', upperFill: '#565656', lowerFill: '#505050', brightFill: '#f8f8f8', gap: 64,
  topLine: [[190,195],[500,198],[800,196],[1100,198],[1330,190],[1500,192]],
  secondLine: [[190,240],[320,232],[430,258],[560,240],[660,245],[800,238],[900,245],[1050,240],[1120,250],[1230,238],[1330,258],[1420,235],[1500,240]],
  cavTop: [[190,378],[250,375],[310,315],[370,345],[450,405],[490,350],[560,340],[670,395],[740,315],[800,340],[880,385],[910,380],[960,320],[1040,360],[1100,385],[1150,340],[1180,320],[1250,360],[1330,410],[1380,340],[1420,320],[1500,372]],
  loBound: [[190,640],[300,710],[400,650],[450,550],[490,720],[560,700],[640,590],[700,700],[780,680],[860,610],[920,720],[1000,710],[1080,625],[1150,700],[1230,730],[1310,560],[1400,700],[1500,640]],
  brightTop: [[190,760],[330,795],[430,765],[530,835],[650,760],[770,795],[870,757],[1000,795],[1090,757],[1200,830],[1310,785],[1420,800],[1500,770]],
  midLine: [[480,705],[560,705],[1150,703],[1250,703]]
});

drawEcg('ecg1', { x0: 129.3, x1: 992.7, top: 1243, bottom: 1323, t0: 0.7, tx0: 175.7, pxPerSec: 1010,
  base: 1305, amp: 42, beats: ecg1Beats, respT: resp1Times, respLevels: resp1Levels, respBase: 1306, respAmp: 25.3,
  rulerY: 1331.7, labelY: 1357, labels: ecg1TickLabels, mTop: 964 });
drawEcg('ecg2', { x0: 132.6, x1: 992.7, top: 1684, bottom: 1765, t0: 0, tx0: 131.3, pxPerSec: 1008,
  base: 1746, amp: 48, beats: ecg2Beats, respT: resp2Times, respLevels: resp2Levels, respBase: 1760.7, respAmp: 54,
  rulerY: 1771.7, labelY: 1797, labels: ecg2TickLabels, mTop: 1407 });

// round off the hand-traced contours of the MRI images
document.querySelectorAll('#mriImages polyline').forEach(pl => {
  const nums = pl.getAttribute('points').trim().split(/[\s,]+/).map(Number);
  const pts = [];
  for (let i = 0; i < nums.length; i += 2) pts.push([nums[i], nums[i + 1]]);
  const path = document.createElementNS(NS, 'path');
  Array.from(pl.attributes).forEach(at => { if (at.name !== 'points') path.setAttribute(at.name, at.value); });
  path.setAttribute('d', smooth(pts));
  path.setAttribute('stroke-linecap', 'round');
  pl.replaceWith(path);
});
</script>
</body>
</html>
